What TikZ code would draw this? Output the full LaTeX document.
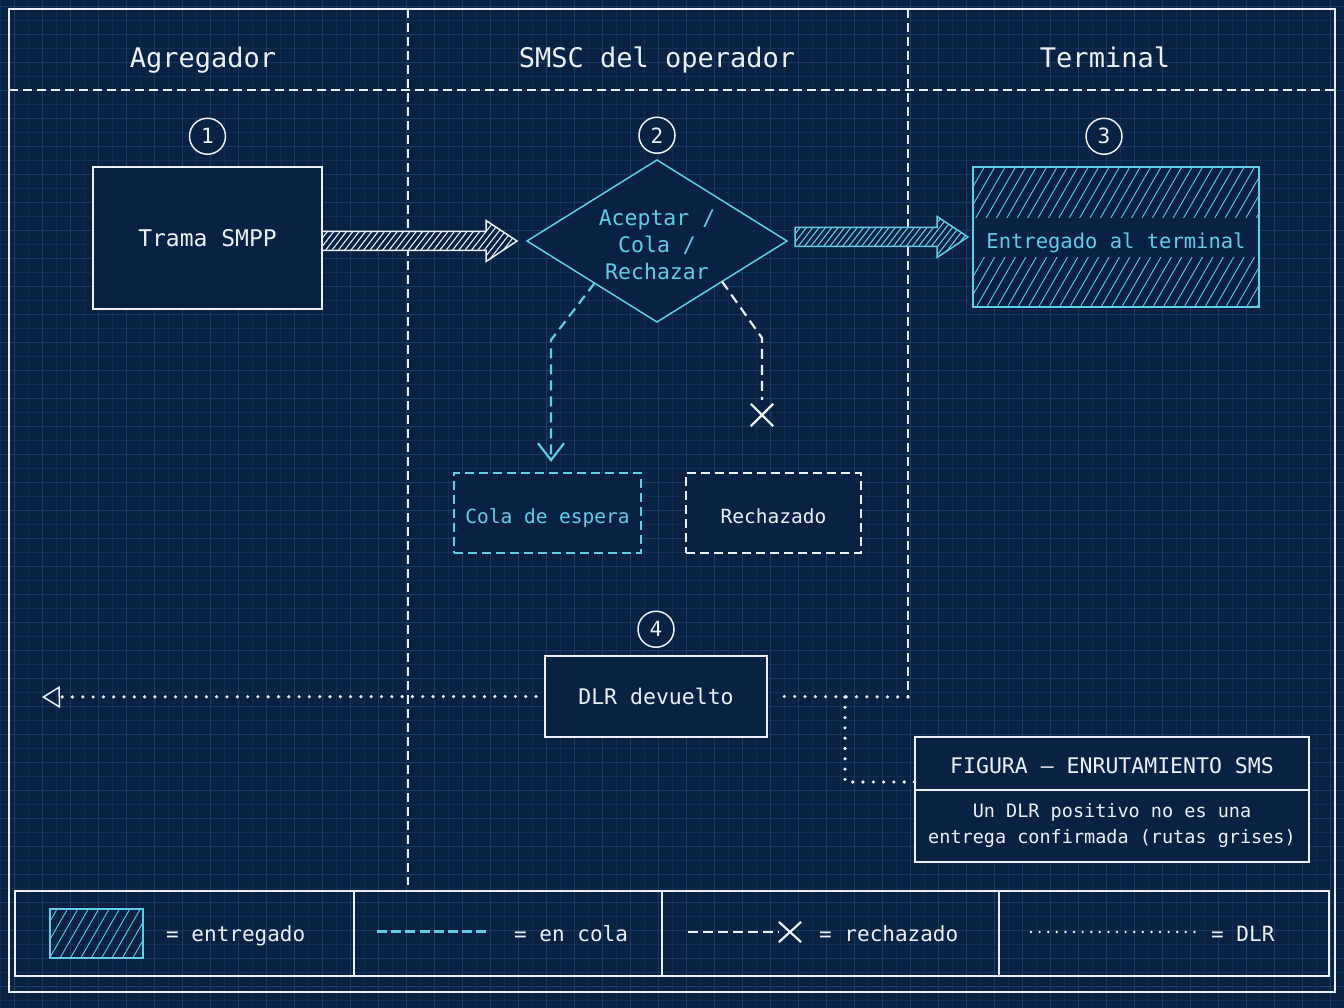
\documentclass[tikz,border=0pt]{standalone}
\usepackage{fontspec}
\setmainfont{DejaVu Sans Mono}
\usetikzlibrary{positioning,calc,shapes.geometric,shapes.misc,arrows.meta,patterns.meta}

\definecolor{bg}{RGB}{9,33,66}
\definecolor{gridmin}{RGB}{18,45,82}
\definecolor{gridmaj}{RGB}{27,58,98}
\definecolor{ink}{RGB}{236,241,246}
\definecolor{aqua}{RGB}{95,205,228}

\tikzset{
  box/.style={rectangle, draw=ink, line width=1.5pt, fill=bg, text=ink, inner sep=0pt, outer sep=0pt,
    text depth=0pt, font=\fontsize{22}{27}\selectfont},
  lane/.style={draw=ink, line width=1.5pt, dash pattern=on 9pt off 5pt},
  badge/.style={circle, draw=ink, line width=1.5pt, minimum size=36pt, inner sep=0pt, fill=bg, text=ink,
    font=\fontsize{21}{21}\selectfont},
  head/.style={text=ink, anchor=base, font=\fontsize{27}{32}\selectfont},
  queued/.style={draw=aqua, line width=2.2pt, dash pattern=on 10pt off 6pt},
  rejected/.style={draw=ink, line width=2.2pt, dash pattern=on 10pt off 6pt},
  dlrline/.style={draw=ink, line width=3.6pt, line cap=round, dash pattern=on 0pt off 10.3pt},
  hatched/.style={pattern={Lines[angle=60,distance=9pt,line width=0.9pt]}, pattern color=#1},
  keycell/.style={rectangle, draw=ink, line width=1.5pt, inner sep=0pt, outer sep=0pt,
    minimum height=85pt},
  keytext/.style={text=ink, anchor=base west, inner sep=0pt, font=\fontsize{21}{25}\selectfont},
}

% lower a label's ink without changing its box
\newcommand\drop[2]{\raisebox{-#1}[\height][\depth]{#2}}

% #1 from, #2 to, #3 gap at start, #4 gap at tip, #5 colour
\newcommand\fatarrow[5]{%
  \draw[draw=#5, line width=1.5pt, preaction={fill=bg},
        pattern={Lines[angle=52,distance=5pt,line width=1.1pt]}, pattern color=#5]
    ($(#1|-#2)+(#3,-9.5)$) -- ($(#2)+(-#4-31,-9.5)$) -- ($(#2)+(-#4-31,-20.5)$)
    -- ($(#2)+(-#4,0)$) -- ($(#2)+(-#4-31,20.5)$) -- ($(#2)+(-#4-31,9.5)$)
    -- ($(#1|-#2)+(#3,9.5)$) -- cycle;}

\begin{document}
\begin{tikzpicture}[x=1pt,y=-1pt]
% background and grid
\fill[bg] (0,0) rectangle (1344,1008);
\useasboundingbox (0,0) rectangle (1344,1008);
\foreach \gx in {0,28,...,1344} \draw[gridmin, line width=0.8pt] (\gx,0) -- (\gx,1008);
\foreach \gy in {20,48,...,1008} \draw[gridmin, line width=0.8pt] (0,\gy) -- (1344,\gy);
\foreach \gx in {14,42,...,1344} \draw[gridmaj, line width=0.8pt] (\gx,0) -- (\gx,1008);
\foreach \gy in {6,34,...,1008} \draw[gridmaj, line width=0.8pt] (0,\gy) -- (1344,\gy);

% frame and lanes
\draw[ink, line width=1.5pt] (9,9) rectangle (1335,992);
\draw[lane] (9,90) -- (1335,90);
\coordinate (dlrin) at (908,697);
\draw[lane] (408,9) -- (408,885);
\draw[lane] (908,9) -- (dlrin);

\node[head] (hagg) at (203,68) {Agregador};
\node[head] (hsmsc) at (657,68) {SMSC del operador};
\node[head] (hterm) at (1105,68) {Terminal};

% steps
\node[box, minimum width=229pt, minimum height=142pt, font=\fontsize{23}{27}\selectfont] (trama) at (207.5,238) {Trama SMPP};
\node[diamond, aspect=1.6, draw=aqua, line width=1.5pt, fill=bg, minimum width=260pt, minimum height=162pt, inner sep=0pt, outer sep=0pt,
      text=aqua, font=\fontsize{21.5}{27}\selectfont] (decide) at (657,241)
      {\drop{6pt}{\begin{tabular}{@{}c@{}}Aceptar /\\Cola /\\Rechazar\end{tabular}}};
\node[box, draw=aqua, text=aqua, minimum width=286pt, minimum height=140pt, font=\fontsize{20.5}{25}\selectfont,
      path picture={
        \fill[hatched=aqua] (path picture bounding box.north west) rectangle ([yshift=19pt]path picture bounding box.east);
        \fill[hatched=aqua] ([yshift=-21pt]path picture bounding box.west) rectangle (path picture bounding box.south east);
      }] (term) at (1116,237) {\drop{4pt}{Entregado al terminal}};
\node[box, draw=aqua, text=aqua, dash pattern=on 9pt off 5pt, minimum width=187pt, minimum height=80pt,
      font=\fontsize{19.5}{24}\selectfont] (queue) at (547.5,513) {\drop{3pt}{Cola de espera}};
\node[box, dash pattern=on 9pt off 5pt, minimum width=175pt, minimum height=80pt,
      font=\fontsize{19.5}{24}\selectfont] (reject) at (773.5,513) {\drop{3pt}{Rechazado}};
\node[box, minimum width=222pt, minimum height=81pt, font=\fontsize{21.5}{26}\selectfont] (dlr) at (656,696.5) {DLR devuelto};

\node[badge, above=12pt of trama] (n1) {1};
\node[badge, above=6pt of decide] (n2) {2};
\node[badge, above=12pt of term, xshift=-12pt] (n3) {3};
\node[badge, above=8pt of dlr] (n4) {4};

% flows
\fatarrow{trama.east}{decide.west}{0}{10}{ink}
\fatarrow{decide.east}{term.west}{8}{5}{aqua}

\coordinate (qbend) at (551,340);
\draw[queued, -{Straight Barb[length=17pt,width=26pt,line width=2.2pt]}, shorten >=11pt]
  ($(decide.west)!0.52!(decide.south)$) -- (qbend) -- (qbend |- queue.north);

\node[cross out, draw=ink, line width=2.4pt, minimum size=20pt, inner sep=0pt] (rejx) at (762,415) {};
\coordinate (rbend) at (762,338);
\draw[rejected, shorten >=4pt] ($(decide.south)!0.5!(decide.east)$) -- (rbend) -- (rejx.north);

% DLR back to the aggregator
\coordinate (dlrend) at (42,697);
\coordinate (dlrtap) at (845,697);
\draw[dlrline] (dlrin) -- ([xshift=9pt]dlr.east);
\draw[dlrline, -{Triangle[open,length=18pt,width=22pt,line width=1.5pt]}] ([xshift=-9pt]dlr.west) -- (dlrend);

% caption
\node[box, minimum width=394pt, minimum height=53pt, font=\fontsize{21.5}{26}\selectfont] (figtitle) at (1112,763.5) {\drop{2pt}{FIGURA – ENRUTAMIENTO SMS}};
\node[box, below=0pt of figtitle, minimum width=394pt, minimum height=72pt, align=center, text depth=6pt,
      font=\fontsize{18.5}{26}\selectfont] (fignote) {Un DLR positivo no es una\\entrega confirmada (rutas grises)};
\draw[dlrline] (dlrtap) |- ([yshift=-18.5pt]figtitle.west);

% legend
\node[keycell, minimum width=339pt] (key1) at (184.5,933.5) {};
\node[keycell, minimum width=308pt, right=0pt of key1] (key2) {};
\node[keycell, minimum width=337pt, right=0pt of key2] (key3) {};
\node[keycell, minimum width=330pt, right=0pt of key3] (key4) {};

\node[draw=aqua, line width=1.5pt, minimum width=93pt, minimum height=49pt, inner sep=0pt,
      path picture={\fill[hatched=aqua] (path picture bounding box.south west) rectangle (path picture bounding box.north east);}]
      (keydone) at (96.5,933.5) {};
\node[keytext] at (166,941) {= entregado};

\coordinate (kq1) at (377,931);
\coordinate (kq2) at (490,931);
\draw[queued, line width=3pt, dash pattern=on 10pt off 4.2pt] (kq1) -- (kq2);
\node[keytext] at (514,941) {= en cola};

\coordinate (kr1) at (688,932);
\node[cross out, draw=ink, line width=2.2pt, minimum width=20pt, minimum height=18pt, inner sep=0pt] (krx) at (790,932) {};
\draw[rejected, line width=2.6pt, dash pattern=on 10pt off 5pt] (kr1) -- (krx.west);
\node[keytext] at (819,941) {= rechazado};

\coordinate (kd1) at (1031,932);
\coordinate (kd2) at (1195,932);
\draw[ink, line width=2.7pt, line cap=round, dash pattern=on 0pt off 8.6pt] (kd1) -- (kd2);
\node[keytext] at (1211,941) {= DLR};
\end{tikzpicture}
\end{document}
